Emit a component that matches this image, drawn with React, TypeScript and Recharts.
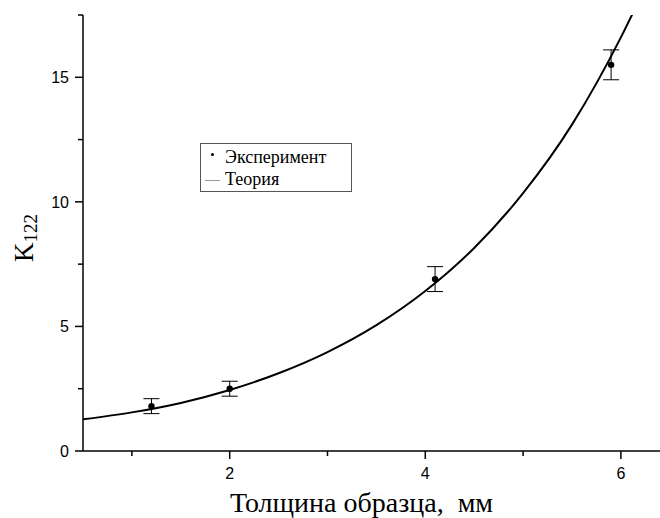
import { ComposedChart, Line, Scatter, ErrorBar, XAxis, YAxis } from "recharts";

// эксперимент: толщина, мм / K122 / погрешность
const expX = [1.2, 2.0, 4.1, 5.9];
const expK = [1.8, 2.5, 6.9, 15.5];
const expErr = [0.3, 0.3, 0.5, 0.6];

// теоретическая кривая
const theoryX = [0.5, 1.0, 1.5, 2.0, 2.5, 3.0, 3.5, 4.0, 4.5, 5.0, 5.5, 6.0, 6.15];
const theoryK = [1.27, 1.55, 1.93, 2.45, 3.12, 3.97, 5.05, 6.42, 8.15, 10.35, 13.1, 16.6, 17.8];

const xTicks = [1, 2, 3, 4, 5, 6];
const xMajor = [2, 4, 6];
const yTicks = [0, 2.5, 5, 7.5, 10, 12.5, 15, 17.5];
const yMajor = [0, 5, 10, 15];

const SANS = "Arial, 'Liberation Sans', sans-serif";
const SERIF = "'Times New Roman', 'Liberation Serif', serif";

const expData = expX.map((x, i) => ({ x, k: expK[i], err: expErr[i] }));
const theoryData = theoryX.map((x, i) => ({ x, k: theoryK[i] }));

function XTick(props: any) {
  const { x, y, payload } = props;
  const major = xMajor.includes(payload.value);
  return (
    <g>
      <line x1={x} x2={x} y1={y} y2={y + (major ? 8 : 5)} stroke="#000" strokeWidth={1.5} />
      {major && (
        <text x={x} y={y + 28} textAnchor="middle" fontFamily={SANS} fontSize={16} fill="#000">
          {payload.value}
        </text>
      )}
    </g>
  );
}

function YTick(props: any) {
  const { x, y, payload } = props;
  const major = yMajor.includes(payload.value);
  return (
    <g>
      <line x1={x} x2={x - (major ? 8 : 5)} y1={y} y2={y} stroke="#000" strokeWidth={1.5} />
      {major && (
        <text x={x - 14} y={y + 6} textAnchor="end" fontFamily={SANS} fontSize={16} fill="#000">
          {payload.value}
        </text>
      )}
    </g>
  );
}

function LegendBox() {
  return (
    <div
      style={{
        position: "absolute",
        left: 200,
        top: 143,
        border: "1px solid #555",
        width: 152,
        height: 49,
        fontFamily: SERIF,
        fontSize: 18,
        lineHeight: "22px",
        padding: "2px 0 0 4px",
        boxSizing: "border-box",
        background: "#fff",
      }}
    >
      <div style={{ display: "flex", alignItems: "center" }}>
        <span style={{ width: 20, display: "inline-block", position: "relative", height: 22 }}>
          <span style={{ position: "absolute", left: 6, top: 7, width: 3, height: 3, borderRadius: 2, background: "#000" }} />
        </span>
        <span>Эксперимент</span>
      </div>
      <div style={{ display: "flex", alignItems: "center" }}>
        <span style={{ width: 20, display: "inline-block", position: "relative", height: 22 }}>
          <span style={{ position: "absolute", left: 0, top: 12, width: 15, height: 1, background: "#999" }} />
        </span>
        <span>Теория</span>
      </div>
    </div>
  );
}

function YLabel(props: any) {
  const { viewBox } = props;
  const cx = viewBox.x + 24;
  const cy = viewBox.y + viewBox.height / 2 + 5;
  return (
    <text
      x={cx}
      y={cy}
      transform={`rotate(-90, ${cx}, ${cy})`}
      textAnchor="middle"
      fontFamily={SERIF}
      fontSize={27}
      fill="#000"
      dominantBaseline="central"
    >
      K
      <tspan fontSize={19} dy={6}>122</tspan>
    </text>
  );
}

function XLabel(props: any) {
  const { viewBox } = props;
  return (
    <text
      x={viewBox.x + viewBox.width / 2 - 10}
      y={512}
      textAnchor="middle"
      fontFamily={SERIF}
      fontSize={28}
      fill="#000"
      style={{ whiteSpace: "pre" }}
    >
      {"Толщина образца,  мм"}
    </text>
  );
}

export default function App() {
  return (
    <div style={{ position: "absolute", left: 0, top: 0, width: 660, height: 518, background: "#fff" }}>
      <ComposedChart width={660} height={518} margin={{ top: 15, right: 0, bottom: 0, left: 0 }}>
        <XAxis
          type="number"
          dataKey="x"
          domain={[0.5, 6.4]}
          ticks={xTicks}
          interval={0}
          allowDataOverflow
          height={67}
          tickSize={0}
          tickMargin={0}
          tickLine={false}
          tick={<XTick />}
          axisLine={{ stroke: "#000", strokeWidth: 1.5 }}
          label={{ content: <XLabel /> }}
        />
        <YAxis
          type="number"
          dataKey="k"
          domain={[0, 17.5]}
          ticks={yTicks}
          interval={0}
          allowDataOverflow
          width={83}
          tickSize={0}
          tickMargin={0}
          tickLine={false}
          tick={<YTick />}
          axisLine={{ stroke: "#000", strokeWidth: 1.5 }}
          label={{ content: <YLabel /> }}
        />
        <Line
          data={theoryData}
          dataKey="k"
          type="monotone"
          stroke="#000"
          strokeWidth={2}
          dot={false}
          activeDot={false}
          isAnimationActive={false}
          name="Теория"
        />
        <Scatter
          data={expData}
          dataKey="k"
          fill="#000"
          shape={(p: any) => <circle cx={p.cx} cy={p.cy} r={3.2} fill="#000" />}
          isAnimationActive={false}
          name="Эксперимент"
        >
          <ErrorBar dataKey="err" direction="y" width={8} stroke="#000" strokeWidth={1} />
        </Scatter>
      </ComposedChart>
      <LegendBox />
    </div>
  );
}
